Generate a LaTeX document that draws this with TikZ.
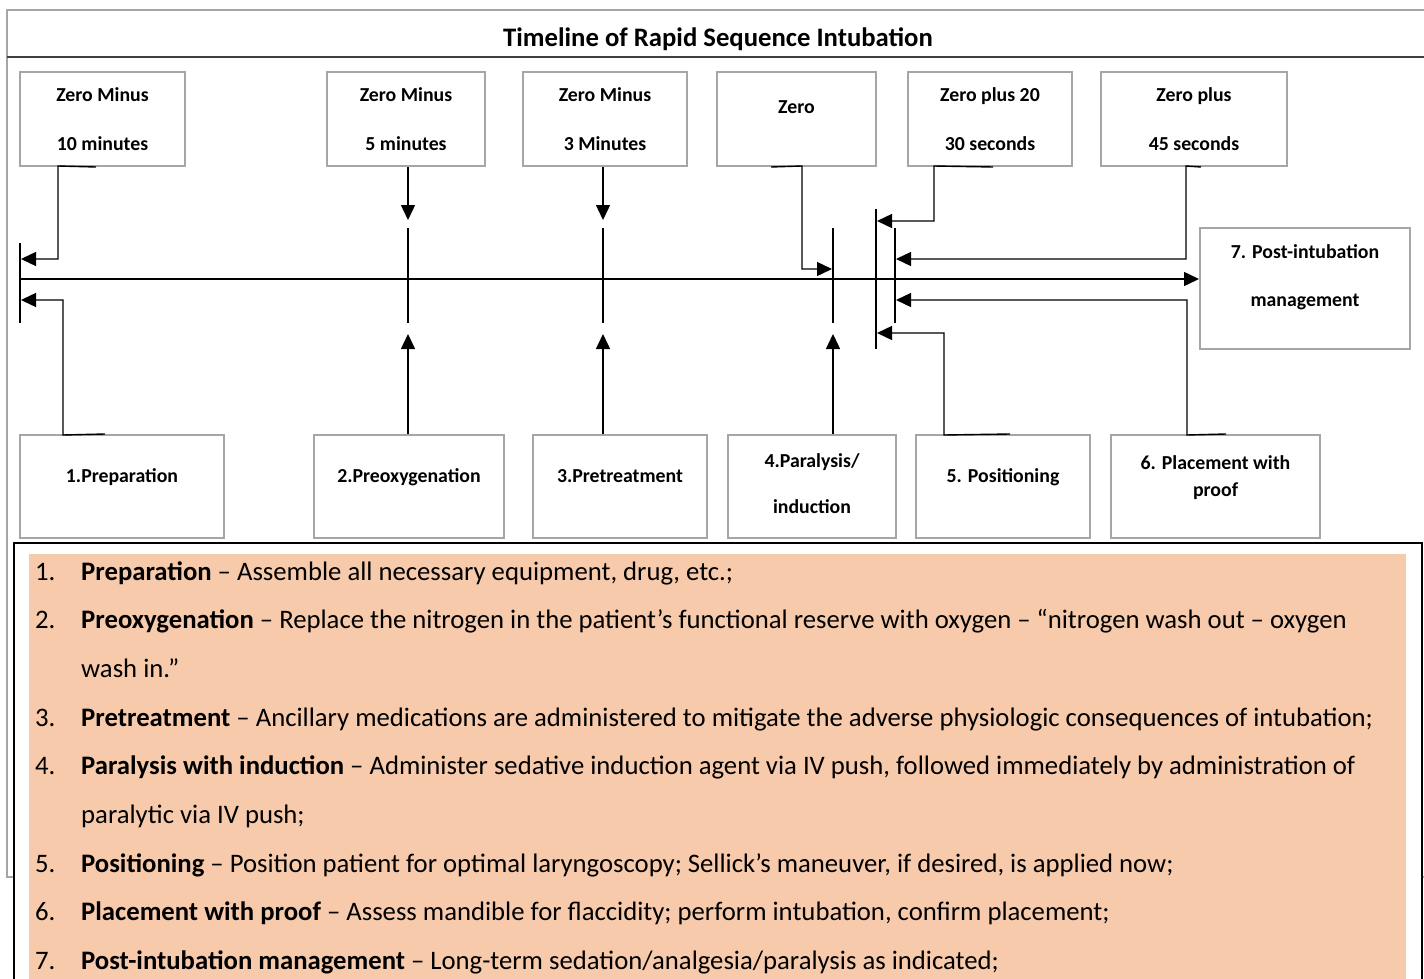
\documentclass[tikz,border=0pt]{standalone}
\usepackage{fontspec}
\setmainfont{Carlito}
\usetikzlibrary{arrows.meta,calc}
\definecolor{peach}{HTML}{F7CAAC}
\definecolor{boxgray}{HTML}{A6A6A6}
\begin{document}
\begin{tikzpicture}[x=1pt,y=-1pt,
  tbox/.style={draw=boxgray,line width=2pt,fill=white,inner sep=0pt},
  lbl/.style={font=\bfseries\fontsize{19.8}{19.8}\selectfont,anchor=base,inner sep=0pt},
  listnum/.style={font=\fontsize{26.7}{26.7}\selectfont,anchor=base west,inner sep=0pt},
  conn/.style={line width=1.4pt,black},
  arr/.style={conn,-{Triangle[length=15pt,width=14pt]}},
  tickline/.style={line width=1.4pt,black}]
\useasboundingbox (0,0) rectangle (1424,979);
% outer frame
\draw[boxgray,line width=2pt] (1440,877) -- (7,877) -- (7,10) -- (1440,10);
\draw[black!75,line width=1.5pt] (7,57) -- (1440,57);
\node[font=\bfseries\fontsize{26.7}{26.7}\selectfont,anchor=base,inner sep=0pt] (title) at (718,47) {Timeline of Rapid Sequence Intubation};
% top boxes
\node[tbox,minimum width=165,minimum height=94] (t1) at (102.5,119) {};
\node[tbox,minimum width=158,minimum height=94] (t2) at (406,119) {};
\node[tbox,minimum width=164,minimum height=94] (t3) at (605,119) {};
\node[tbox,minimum width=159,minimum height=94] (t4) at (796.5,119) {};
\node[tbox,minimum width=164,minimum height=94] (t5) at (990,119) {};
\node[tbox,minimum width=186,minimum height=94] (t6) at (1194,119) {};
\node[lbl] (t1a) at (102.5,102) {Zero Minus};
\node[lbl] (t1b) at (102.5,150) {10 minutes};
\node[lbl] (t2a) at (406,102) {Zero Minus};
\node[lbl] (t2b) at (406,150) {5 minutes};
\node[lbl] (t3a) at (605,102) {Zero Minus};
\node[lbl] (t3b) at (605,150) {3 Minutes};
\node[lbl] (t4a) at (796.5,114) {Zero};
\node[lbl] (t5a) at (990,102) {Zero plus 20};
\node[lbl] (t5b) at (990,150) {30 seconds};
\node[lbl] (t6a) at (1194,102) {Zero plus};
\node[lbl] (t6b) at (1194,150) {45 seconds};
% bottom boxes
\node[tbox,minimum width=204,minimum height=103] (b1) at (122,486.5) {};
\node[tbox,minimum width=190,minimum height=103] (b2) at (409,486.5) {};
\node[tbox,minimum width=174,minimum height=103] (b3) at (620,486.5) {};
\node[tbox,minimum width=168,minimum height=103] (b4) at (812,486.5) {};
\node[tbox,minimum width=174,minimum height=103] (b5) at (1003,486.5) {};
\node[tbox,minimum width=209,minimum height=103] (b6) at (1215.5,486.5) {};
\node[tbox,minimum width=210,minimum height=121] (b7) at (1305,288.5) {};
\node[lbl] (b1a) at (122,482) {1.Preparation};
\node[lbl] (b2a) at (409,482) {2.Preoxygenation};
\node[lbl] (b3a) at (620,482) {3.Pretreatment};
\node[lbl] (b4a) at (812,467) {4.Paralysis/};
\node[lbl] (b4b) at (812,513) {induction};
\node[lbl] (b5a) at (1003,482) {5. Positioning};
\node[lbl] (b6a) at (1215.5,469) {6. Placement with};
\node[lbl] (b6b) at (1215.5,496) {proof};
\node[lbl] (b7a) at (1305,258) {7. Post-intubation};
\node[lbl] (b7b) at (1305,306) {management};
% timeline
\coordinate (L) at (20,279);
\draw[arr] (L) -- (L -| b7.west);
\draw[tickline] (20,243) -- (20,323);
\draw[tickline] (408,228) -- (408,323);
\draw[tickline] (603,228) -- (603,323);
\draw[tickline] (833,228) -- (833,323);
\draw[tickline] (876,209) -- (876,349);
\draw[tickline] (895,228) -- (895,323);
% connectors
\draw[arr] ($(t1.south)+(-6.5,0)$) -- (58,166) |- (21,259);
\draw[arr] ($(b1.north)+(-17,0)$) -- (63,435) |- (21,300);
\draw[arr] ($(t2.south)+(2,0)$) -- (408,220);
\draw[arr] ($(b2.north)+(-1,0)$) -- (408,334);
\draw[arr] ($(t3.south)+(-2,0)$) -- (603,220);
\draw[arr] ($(b3.north)+(-17,0)$) -- (603,334);
\draw[arr] ($(t4.south)+(-25.5,0)$) -- (802,166) |- (832,269);
\draw[arr] ($(b4.north)+(21,0)$) -- (833,334);
\draw[arr] ($(t5.south)+(3,0)$) -- (934,166) |- (877,221);
\draw[arr] ($(b5.north)+(7,0)$) -- (944,435) |- (877,333);
\draw[arr] ($(t6.south)+(7,0)$) -- (1186,166) |- (896,259);
\draw[arr] ($(b6.north)+(10.5,0)$) -- (1187,435) |- (896,300);
% legend text box
\draw[black,line width=1.2pt,fill=white] (14,543) rectangle (1422,1000);
\fill[peach] (29,554) rectangle (1406,1000);
\foreach \n/\yy in {1/580,2/628.7,3/726.1,4/774.8,5/872.2,6/920.9,7/969.6}
  \node[listnum] (n\n) at (35,\yy) {\n.};
\node[listnum] (l1) at (81,580) {\textbf{Preparation} – Assemble all necessary equipment, drug, etc.;};
\node[listnum] (l2) at (81,628.7) {\textbf{Preoxygenation} – Replace the nitrogen in the patient’s functional reserve with oxygen – “nitrogen wash out – oxygen};
\node[listnum] (l2b) at (81,677.4) {wash in.”};
\node[listnum] (l3) at (81,726.1) {\textbf{Pretreatment} – Ancillary medications are administered to mitigate the adverse physiologic consequences of intubation;};
\node[listnum] (l4) at (81,774.8) {\textbf{Paralysis with induction} – Administer sedative induction agent via IV push, followed immediately by administration of};
\node[listnum] (l4b) at (81,823.5) {paralytic via IV push;};
\node[listnum] (l5) at (81,872.2) {\textbf{Positioning} – Position patient for optimal laryngoscopy; Sellick’s maneuver, if desired, is applied now;};
\node[listnum] (l6) at (81,920.9) {\textbf{Placement with proof} – Assess mandible for flaccidity; perform intubation, confirm placement;};
\node[listnum] (l7) at (81,969.6) {\textbf{Post-intubation management} – Long-term sedation/analgesia/paralysis as indicated;};
\end{tikzpicture}
\end{document}
